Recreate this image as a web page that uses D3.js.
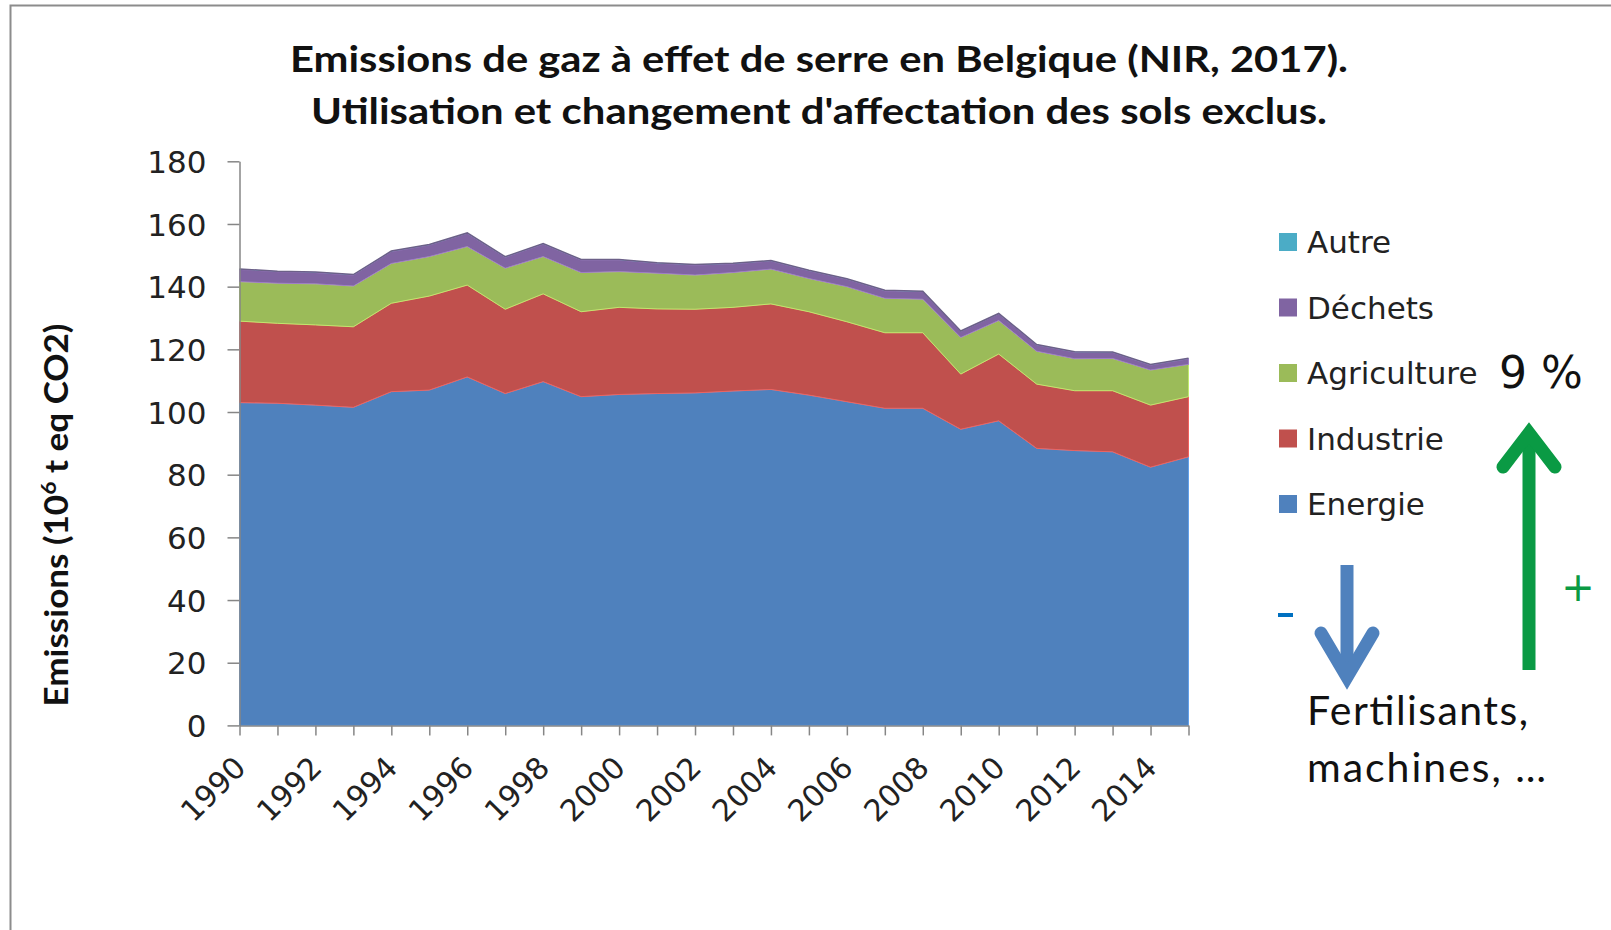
<!DOCTYPE html>
<html>
<head>
<meta charset="utf-8">
<script src="https://cdn.jsdelivr.net/npm/d3@7"></script>
<style>
  body { margin: 0; background: #fff; }
  svg { display: block; }
</style>
</head>
<body>
<svg id="chart" width="1611" height="930"></svg>
<script>
// values (Mt eq CO2)
const years = d3.range(1990, 2016);
const energie = [103.0, 102.8, 102.2, 101.5, 106.5, 107.0, 111.2, 105.9, 109.7, 104.9, 105.6, 105.9, 106.1,
  106.7, 107.2, 105.4, 103.3, 101.2, 101.2, 94.5, 97.2, 88.4, 87.7, 87.3, 82.4, 85.7];
const industrie = [26.0, 25.5, 25.6, 25.7, 28.2, 30.0, 29.3, 26.9, 28.0, 27.1, 27.8, 27.0, 26.7,
  26.7, 27.3, 26.6, 25.5, 24.1, 24.1, 17.6, 21.3, 20.5, 19.1, 19.5, 19.8, 19.2];
const agriculture = [12.6, 12.8, 13.1, 13.0, 12.7, 12.6, 12.3, 13.1, 11.9, 12.5, 11.4, 11.4, 10.9,
  11.1, 11.1, 10.6, 11.2, 11.0, 10.7, 11.7, 10.7, 10.5, 10.2, 10.3, 11.2, 10.3];
const dechets = [3.9, 3.7, 3.6, 3.5, 3.8, 3.7, 4.2, 3.5, 4.0, 4.0, 3.7, 3.2, 3.2,
  2.8, 2.6, 2.5, 2.4, 2.4, 2.4, 1.9, 2.1, 2.0, 2.1, 1.9, 1.6, 1.8];
const autre = [0.15, 0.15, 0.15, 0.15, 0.15, 0.15, 0.15, 0.15, 0.15, 0.15, 0.15, 0.15, 0.15,
  0.15, 0.15, 0.15, 0.15, 0.15, 0.15, 0.15, 0.15, 0.15, 0.15, 0.15, 0.15, 0.15];

const keys = ["Energie", "Industrie", "Agriculture", "Déchets", "Autre"];
const colors = ["#4f81bd", "#c0504d", "#9bbb59", "#8064a2", "#4bacc6"];
const yTicks = d3.range(0, 181, 20);
const yearLabels = years.filter((y) => y % 2 === 0);

const table = years.map((yr, i) => ({
  year: yr,
  Energie: energie[i],
  Industrie: industrie[i],
  Agriculture: agriculture[i],
  "Déchets": dechets[i],
  Autre: autre[i],
}));

const svg = d3.select("#chart");
const plotLeft = 239.5, plotRight = 1188.5, plotTop = 161.3, plotBottom = 725.4;

const x = d3.scalePoint().domain(years).range([plotLeft, plotRight]).padding(0);
const y = d3.scaleLinear().domain([0, 180]).range([plotBottom, plotTop]);
const color = d3.scaleOrdinal().domain(keys).range(colors);

// frame of the slide picture
svg.append("path")
  .attr("d", "M10.5,935 V5.5 H1620")
  .attr("fill", "none")
  .attr("stroke", "#8c8c8c")
  .attr("stroke-width", 2);

// title
const title = svg.append("g")
  .attr("font-family", "Lato, 'Open Sans', sans-serif")
  .attr("font-weight", "bold")
  .attr("font-size", 37)
  .attr("fill", "#111")
  .attr("text-anchor", "middle");
title.append("text").attr("x", 819).attr("y", 72)
  .attr("textLength", 1058).attr("lengthAdjust", "spacingAndGlyphs")
  .text("Emissions de gaz à effet de serre en Belgique (NIR, 2017).");
title.append("text").attr("x", 819).attr("y", 124)
  .attr("textLength", 1016).attr("lengthAdjust", "spacingAndGlyphs")
  .text("Utilisation et changement d'affectation des sols exclus.");

// stacked areas
const series = d3.stack().keys(keys)(table);
const area = d3.area()
  .x((d) => x(d.data.year))
  .y0((d) => y(d[0]))
  .y1((d) => y(d[1]));

svg.append("g")
  .selectAll("path")
  .data(series)
  .join("path")
  .attr("d", area)
  .attr("fill", (d) => color(d.key))
  .attr("stroke", (d) => (d.key === "Autre" ? "none" : d3.color(color(d.key)).brighter(0.6)))
  .attr("stroke-width", 1);

// darker outline along the top of the stack
const topSeries = series[series.length - 1];
svg.append("path")
  .attr("d", d3.line().x((d) => x(d.data.year)).y((d) => y(d[1]))(topSeries))
  .attr("fill", "none")
  .attr("stroke", "#6c6088")
  .attr("stroke-width", 1.5);

// axes
const yAxis = svg.append("g")
  .attr("transform", `translate(${plotLeft},0)`)
  .call(d3.axisLeft(y).tickValues(yTicks).tickSize(12).tickPadding(21).tickSizeOuter(0));
const xAxis = svg.append("g")
  .attr("transform", `translate(0,${plotBottom})`)
  .call(d3.axisBottom(x).tickValues(years).tickSize(10).tickSizeOuter(0).tickFormat(""));

[yAxis, xAxis].forEach((g) => {
  g.select(".domain").attr("stroke", "#868686").attr("stroke-width", 1.5);
  g.selectAll(".tick line").attr("stroke", "#868686").attr("stroke-width", 1.5);
});
yAxis.selectAll(".tick text")
  .attr("font-family", "'DejaVu Sans', Verdana, sans-serif")
  .attr("font-size", 31)
  .attr("fill", "#222")
  .attr("dy", "0.36em");

svg.append("g")
  .selectAll("text")
  .data(yearLabels)
  .join("text")
  .attr("transform", (d) => `translate(${x(d) + 8},${plotBottom + 44}) rotate(-45)`)
  .attr("text-anchor", "end")
  .attr("font-family", "'DejaVu Sans', Verdana, sans-serif")
  .attr("font-size", 30)
  .attr("fill", "#222")
  .text((d) => d);

// y title
const yTitle = svg.append("text")
  .attr("transform", "translate(68,515) rotate(-90)")
  .attr("text-anchor", "middle")
  .attr("textLength", 383)
  .attr("lengthAdjust", "spacingAndGlyphs")
  .attr("font-family", "Lato, 'Open Sans', sans-serif")
  .attr("font-weight", "bold")
  .attr("font-size", 32)
  .attr("fill", "#111");
yTitle.append("tspan").text("Emissions (10");
yTitle.append("tspan").attr("font-size", 21).attr("dy", -12).text("6");
yTitle.append("tspan").attr("dy", 12).text(" t eq CO2)");

// legend
const legend = svg.append("g")
  .selectAll("g")
  .data(keys.slice().reverse())
  .join("g")
  .attr("transform", (d, i) => `translate(1279,${242 + i * 65.5})`);
legend.append("rect")
  .attr("x", 0).attr("y", -9)
  .attr("width", 18).attr("height", 18)
  .attr("fill", (d) => color(d));
legend.append("text")
  .attr("x", 28).attr("dy", "0.36em")
  .attr("font-family", "'DejaVu Sans', Verdana, sans-serif")
  .attr("font-size", 31)
  .attr("fill", "#222")
  .text((d) => d);

// annotations
svg.append("text")
  .attr("x", 1499).attr("y", 388)
  .attr("font-family", "'DejaVu Sans', Verdana, sans-serif")
  .attr("font-size", 44)
  .attr("fill", "#111")
  .text("9 %");

const green = "#0a9a44", blue = "#4f81bd";
svg.append("line")
  .attr("x1", 1529).attr("x2", 1529).attr("y1", 436).attr("y2", 670)
  .attr("stroke", green).attr("stroke-width", 13);
svg.append("polyline")
  .attr("points", "1503,467 1529,433 1555,467")
  .attr("fill", "none").attr("stroke", green).attr("stroke-width", 13)
  .attr("stroke-linecap", "round");
svg.append("text")
  .attr("x", 1578).attr("y", 601)
  .attr("text-anchor", "middle")
  .attr("font-family", "'DejaVu Sans', sans-serif")
  .attr("font-size", 40)
  .attr("fill", green)
  .text("+");

svg.append("line")
  .attr("x1", 1347).attr("x2", 1347).attr("y1", 565).attr("y2", 676)
  .attr("stroke", blue).attr("stroke-width", 13);
svg.append("polyline")
  .attr("points", "1321,633 1347,677 1373,633")
  .attr("fill", "none").attr("stroke", blue).attr("stroke-width", 13)
  .attr("stroke-linecap", "round");
svg.append("rect")
  .attr("x", 1278).attr("y", 613).attr("width", 15).attr("height", 4)
  .attr("fill", "#0070c0");

const note = svg.append("g")
  .attr("font-family", "Lato, 'Open Sans', sans-serif")
  .attr("font-size", 41)
  .attr("fill", "#111");
note.append("text").attr("x", 1307).attr("y", 725)
  .attr("textLength", 221).text("Fertilisants,");
note.append("text").attr("x", 1307).attr("y", 782)
  .attr("textLength", 239).text("machines, …");
</script>
</body>
</html>
